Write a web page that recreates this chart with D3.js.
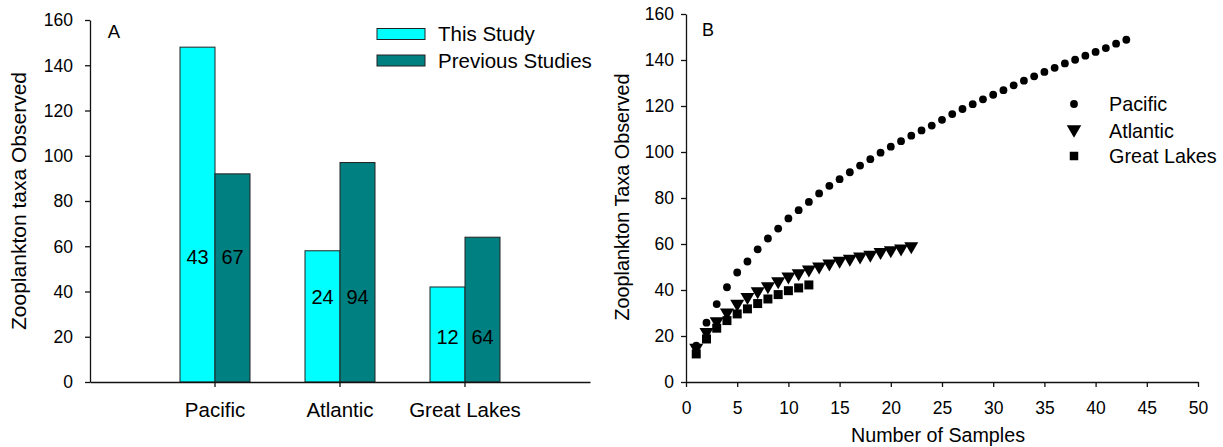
<!DOCTYPE html>
<html>
<head>
<meta charset="utf-8">
<script src="https://cdn.jsdelivr.net/npm/d3@7"></script>
<style>
  html, body { margin: 0; padding: 0; background: #fff; }
  svg { display: block; font-family: "Liberation Sans", Arial, sans-serif; }
</style>
</head>
<body>
<svg id="chart" width="1223" height="447"></svg>
<script>
// ---- Panel A: taxa counts per region ----
const categories = ["Pacific", "Atlantic", "Great Lakes"];
const seriesNames = ["This Study", "Previous Studies"];
const thisStudy = [148, 58, 42];
const previousStudies = [92, 97, 64];
const thisStudyNotes = [43, 24, 12];
const previousNotes = [67, 94, 64];
const yTicksA = [0, 20, 40, 60, 80, 100, 120, 140, 160];

// ---- Panel B: accumulation curves (taxa vs number of samples) ----
const pacific = [15.8, 25.8, 33.9, 41.2, 47.6, 52.4, 57.7, 62.4, 66.7, 71.1,
  74.7, 78.3, 82.0, 85.3, 88.2, 91.2, 94.1, 96.9, 99.7, 102.3,
  104.7, 107.1, 109.4, 111.5, 114.0, 116.5, 118.7, 120.8, 122.9, 124.9,
  126.9, 129.0, 131.0, 132.9, 134.8, 136.6, 138.5, 140.1, 141.9, 143.5,
  145.2, 147.1, 148.8];
const atlantic = [14.0, 20.9, 25.5, 29.3, 33.1, 36.1, 38.6, 40.8, 42.9, 45.0,
  46.4, 48.0, 49.3, 50.6, 51.8, 52.7, 53.7, 54.5, 55.6, 56.4,
  57.2, 58.2];
const greatLakes = [12.2, 18.7, 23.4, 26.7, 29.6, 31.8, 34.1, 36.1, 38.0, 39.7,
  40.9, 42.2];
const xTicksB = [0, 5, 10, 15, 20, 25, 30, 35, 40, 45, 50];
const yTicksB = [0, 20, 40, 60, 80, 100, 120, 140, 160];
const curveNames = ["Pacific", "Atlantic", "Great Lakes"];

const svg = d3.select("#chart");
const ink = "#111";
const colors = ["#00FFFF", "#008080"];

function styleAxis(g) {
  g.selectAll("path.domain").attr("stroke", ink).attr("stroke-width", 1.3);
  g.selectAll(".tick line").attr("stroke", ink).attr("stroke-width", 1.3);
  g.selectAll("text").attr("fill", "#000").attr("font-family", "Liberation Sans, Arial, sans-serif");
}

// ================= Panel A =================
(function panelA() {
  const x0 = d3.scaleBand().domain(categories).range([90, 590]).paddingInner(0).paddingOuter(0.5);
  const groupW = 70;
  const x1 = d3.scaleBand().domain(seriesNames).range([0, groupW]);
  const y = d3.scaleLinear().domain([0, 160]).range([382, 20]);

  const g = svg.append("g");

  const rows = categories.map((c, i) => ({
    cat: c,
    vals: [
      { s: seriesNames[0], v: thisStudy[i], note: thisStudyNotes[i], k: 0 },
      { s: seriesNames[1], v: previousStudies[i], note: previousNotes[i], k: 1 }
    ]
  }));

  const groups = g.selectAll("g.grp").data(rows).join("g")
    .attr("class", "grp")
    .attr("transform", d => `translate(${x0(d.cat) + x0.bandwidth() / 2 - groupW / 2},0)`);

  groups.selectAll("rect").data(d => d.vals).join("rect")
    .attr("x", d => x1(d.s))
    .attr("y", d => y(d.v))
    .attr("width", x1.bandwidth())
    .attr("height", d => y(0) - y(d.v))
    .attr("fill", d => colors[d.k])
    .attr("stroke", "#222")
    .attr("stroke-width", 1);

  // numbers written inside the bars, at a fixed height per region
  const labelLevels = [55.4, 37.6, 19.8];
  groups.each(function (d, i) {
    d3.select(this).selectAll("text.note").data(d.vals).join("text")
      .attr("class", "note")
      .attr("x", v => x1(v.s) + x1.bandwidth() / 2)
      .attr("y", y(labelLevels[i]))
      .attr("dy", "0.35em")
      .attr("text-anchor", "middle")
      .attr("font-size", 20)
      .attr("fill", "#000")
      .text(v => v.note);
  });

  // axes
  const ax = g.append("g").attr("transform", `translate(0,${y(0)})`)
    .call(d3.axisBottom(x0).tickSize(5).tickSizeOuter(0));
  styleAxis(ax);
  ax.selectAll("text").attr("y", 28).attr("dy", "0.35em").attr("font-size", 20.5);

  const ay = g.append("g").attr("transform", "translate(90,0)")
    .call(d3.axisLeft(y).tickValues(yTicksA).tickSize(5).tickSizeOuter(0));
  styleAxis(ay);
  ay.selectAll("text").attr("x", -17).attr("dy", "0.34em").attr("font-size", 17.5);

  g.append("text")
    .attr("transform", `translate(19,${(y(0) + y(160)) / 2}) rotate(-90)`)
    .attr("text-anchor", "middle").attr("dy", "0.35em")
    .attr("font-size", 21).attr("fill", "#000")
    .text("Zooplankton taxa Observed");

  g.append("text").attr("x", 114).attr("y", 32).attr("dy", "0.35em")
    .attr("text-anchor", "middle").attr("font-size", 18.5).attr("fill", "#000").text("A");

  // legend
  const leg = g.append("g");
  seriesNames.forEach((s, i) => {
    const cy = 34 + i * 26.5;
    leg.append("rect").attr("x", 377).attr("y", cy - 5.5).attr("width", 48).attr("height", 11)
      .attr("fill", colors[i]).attr("stroke", "#222").attr("stroke-width", 1);
    leg.append("text").attr("x", 438).attr("y", cy).attr("dy", "0.35em")
      .attr("font-size", 20.5).attr("fill", "#000").text(s);
  });
})();

// ================= Panel B =================
(function panelB() {
  const x = d3.scaleLinear().domain([0, 50]).range([686, 1198]);
  const y = d3.scaleLinear().domain([0, 160]).range([382, 14]);
  const g = svg.append("g");

  const tri = (w, h) => `M${-w / 2},${-h / 2}L${w / 2},${-h / 2}L0,${h / 2}Z`;
  const sq = s => `M${-s / 2},${-s / 2}h${s}v${s}h${-s}Z`;

  const pts = (arr) => arr.map((v, i) => ({ n: i + 1, v }));

  // Great Lakes squares
  g.append("g").selectAll("path").data(pts(greatLakes)).join("path")
    .attr("d", sq(9))
    .attr("transform", d => `translate(${x(d.n)},${y(d.v)})`)
    .attr("fill", "#000");

  // Atlantic downward triangles
  g.append("g").selectAll("path").data(pts(atlantic)).join("path")
    .attr("d", tri(14, 12))
    .attr("transform", d => `translate(${x(d.n)},${y(d.v)})`)
    .attr("fill", "#000");

  // Pacific circles
  g.append("g").selectAll("circle").data(pts(pacific)).join("circle")
    .attr("cx", d => x(d.n)).attr("cy", d => y(d.v)).attr("r", 3.9)
    .attr("fill", "#000");

  // axes
  const ax = g.append("g").attr("transform", `translate(0,${y(0)})`)
    .call(d3.axisBottom(x).tickValues(xTicksB).tickSize(5).tickSizeOuter(0));
  styleAxis(ax);
  ax.selectAll("text").attr("y", 26).attr("dy", "0.35em").attr("font-size", 17.5);

  const ay = g.append("g").attr("transform", "translate(686,0)")
    .call(d3.axisLeft(y).tickValues(yTicksB).tickSize(5).tickSizeOuter(0));
  styleAxis(ay);
  ay.selectAll("text").attr("x", -12).attr("dy", "0.34em").attr("font-size", 17.5);

  g.append("text")
    .attr("transform", `translate(622,197) rotate(-90)`)
    .attr("text-anchor", "middle").attr("dy", "0.35em")
    .attr("font-size", 19.8).attr("fill", "#000")
    .text("Zooplankton Taxa Observed");

  g.append("text").attr("x", 938).attr("y", 435).attr("dy", "0.35em")
    .attr("text-anchor", "middle").attr("font-size", 19.7).attr("fill", "#000")
    .text("Number of Samples");

  g.append("text").attr("x", 708).attr("y", 30).attr("dy", "0.35em")
    .attr("text-anchor", "middle").attr("font-size", 18).attr("fill", "#000").text("B");

  // legend
  const ly = [104, 131.5, 156];
  const leg = g.append("g");
  curveNames.forEach((nm, i) => {
    if (nm === "Pacific") {
      leg.append("circle").attr("cx", 1074).attr("cy", ly[i]).attr("r", 3.9).attr("fill", "#000");
    } else if (nm === "Atlantic") {
      leg.append("path").attr("d", tri(14.5, 12.5)).attr("transform", `translate(1074,${ly[i]})`).attr("fill", "#000");
    } else {
      leg.append("path").attr("d", sq(8.5)).attr("transform", `translate(1074,${ly[i]})`).attr("fill", "#000");
    }
    leg.append("text").attr("x", 1109).attr("y", ly[i]).attr("dy", "0.35em")
      .attr("font-size", 19.8).attr("fill", "#000").text(nm);
  });
})();
</script>
</body>
</html>
